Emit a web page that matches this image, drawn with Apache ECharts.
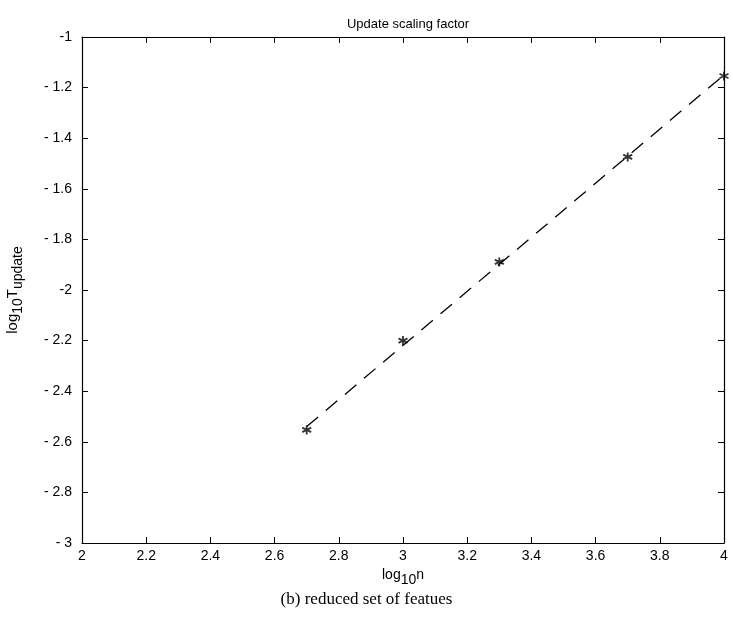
<!DOCTYPE html>
<html>
<head>
<meta charset="utf-8">
<script src="https://cdn.jsdelivr.net/npm/echarts@6/dist/echarts.min.js"></script>
<style>html,body{margin:0;padding:0;background:#fff}#c{width:733px;height:624px}</style>
</head>
<body>
<div id="c"></div>
<script>
// Data
var xValues = [2.7, 3.0, 3.3, 3.7, 4.0];
var yValues = [-2.553, -2.20, -1.889, -1.474, -1.154];
var fitX = [2.7, 4.0];
var fitY = [-2.54, -1.15];
var xTickLabels = ['2', '2.2', '2.4', '2.6', '2.8', '3', '3.2', '3.4', '3.6', '3.8', '4'];
var yTickValues = [-1, -1.2, -1.4, -1.6, -1.8, -2, -2.2, -2.4, -2.6, -2.8, -3];
var yTickLabels = ['-1', '- 1.2', '- 1.4', '- 1.6', '- 1.8', '-2', '- 2.2', '- 2.4', '- 2.6', '- 2.8', '- 3'];

var font = 'Liberation Sans, Arial, Helvetica, sans-serif';
var chart = echarts.init(document.getElementById('c'), null, {renderer: 'canvas'});

function xLabel(v) {
  var i = Math.round((v - 2) / 0.2);
  return xTickLabels[i] !== undefined ? xTickLabels[i] : '';
}
function yLabel(v) {
  for (var i = 0; i < yTickValues.length; i++) {
    if (Math.abs(yTickValues[i] - v) < 1e-6) return yTickLabels[i];
  }
  return '';
}

var scatterData = xValues.map(function (x, i) { return [x, yValues[i]]; });
var fitData = fitX.map(function (x, i) { return [x, fitY[i]]; });

var baseAxisLine = {show: true, lineStyle: {color: '#000', width: 1.2}};
var tickStyle = {show: true, inside: true, length: 6, lineStyle: {color: '#000', width: 1}};

var option = {
  backgroundColor: '#fff',
  animation: false,
  title: {
    text: 'Update scaling factor',
    left: 403, top: 13, textAlign: 'center',
    textStyle: {fontFamily: font, fontSize: 13, fontWeight: 'normal', color: '#000'}
  },
  graphic: [{
    type: 'text',
    left: 'center',
    top: 591,
    style: {
      text: '(b) reduced set of featues',
      fontFamily: 'Liberation Serif, Times New Roman, serif',
      fontSize: 17,
      fill: '#000'
    }
  }],
  grid: {left: 82, right: 9, top: 37, bottom: 81, containLabel: false, outerBoundsMode: 'none'},
  xAxis: [{
    type: 'value', min: 2, max: 4, interval: 0.2, position: 'bottom',
    axisLine: baseAxisLine, axisTick: tickStyle, splitLine: {show: false},
    axisLabel: {formatter: xLabel, color: '#000', fontFamily: font, fontSize: 14, margin: 6},
    name: '{a|log}{s|10}{a|n}', nameLocation: 'middle', nameGap: 19,
    nameTextStyle: {
      rich: {
        a: {fontFamily: font, fontSize: 14, color: '#000'},
        s: {fontFamily: font, fontSize: 14, color: '#000', padding: [10, 0, 0, 0]}
      }
    }
  }, {
    type: 'value', min: 2, max: 4, interval: 0.2, position: 'top',
    axisLine: baseAxisLine, axisTick: tickStyle, splitLine: {show: false}, axisLabel: {show: false}
  }],
  yAxis: [{
    type: 'value', min: -3, max: -1, interval: 0.2, position: 'left',
    axisLine: baseAxisLine, axisTick: tickStyle, splitLine: {show: false},
    axisLabel: {formatter: yLabel, color: '#000', fontFamily: font, fontSize: 14, margin: 10},
    name: '{a|log}{s|10}{a|T}{s|update}', nameLocation: 'middle', nameGap: 57, nameRotate: 90,
    nameTextStyle: {
      rich: {
        a: {fontFamily: font, fontSize: 15, color: '#000'},
        s: {fontFamily: font, fontSize: 14, color: '#000', padding: [10, 0, 0, 0]}
      }
    }
  }, {
    type: 'value', min: -3, max: -1, interval: 0.2, position: 'right',
    axisLine: baseAxisLine, axisTick: tickStyle, splitLine: {show: false}, axisLabel: {show: false}
  }],
  series: [{
    type: 'line',
    data: fitData,
    xAxisIndex: 0, yAxisIndex: 0,
    showSymbol: false,
    lineStyle: {color: '#000', width: 1.3, type: [15, 10]},
    z: 2
  }, {
    type: 'scatter',
    data: scatterData,
    xAxisIndex: 0, yAxisIndex: 0,
    symbol: 'path://M0,-5L0,5M-4.33,-2.5L4.33,2.5M-4.33,2.5L4.33,-2.5',
    symbolSize: 9,
    itemStyle: {color: 'none', borderColor: '#000', borderWidth: 1.8},
    clip: false,
    z: 3
  }]
};
chart.setOption(option);
</script>
</body>
</html>
